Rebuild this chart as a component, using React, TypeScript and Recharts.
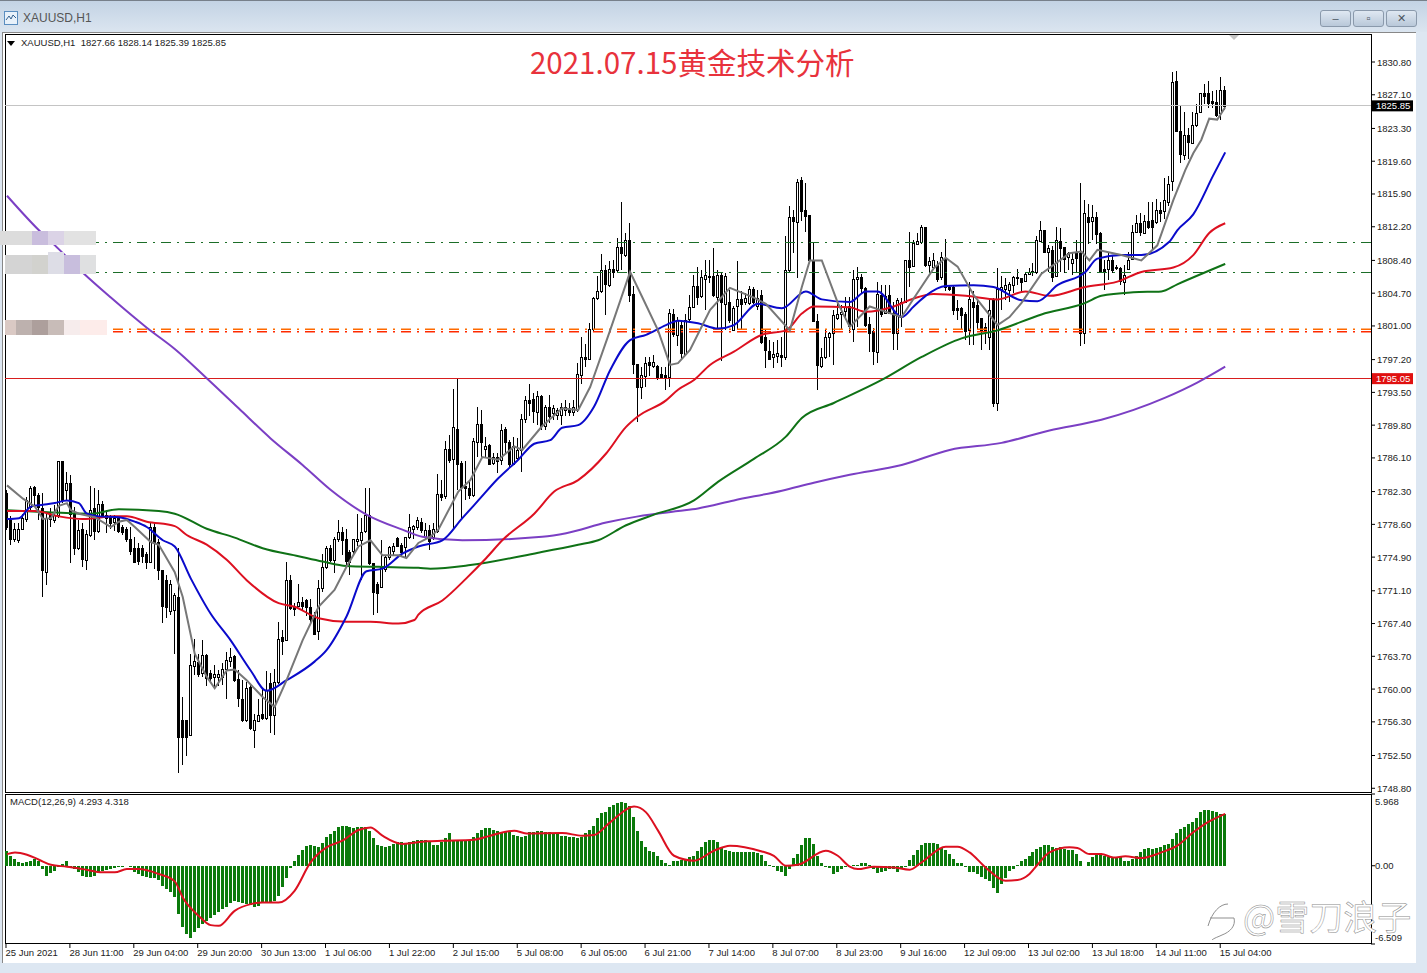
import { Bar, ComposedChart, Line, ReferenceLine, XAxis, YAxis } from "recharts";

// candles, one hour per bar
const opens = [
  1782.1,1779.1,1777.0,1776.9,1778.1,1779.1,1780.6,1782.8,1781.9,1780.4,
  1773.2,1779.6,1779.0,1779.6,1785.7,1782.5,1783.3,1779.8,1776.0,1778.1,
  1774.6,1777.4,1780.4,1777.9,1780.9,1779.6,1779.5,1778.8,1779.3,1778.3,
  1778.1,1777.0,1775.9,1775.9,1775.9,1775.3,1774.4,1778.3,1776.6,1773.4,
  1772.3,1768.9,1768.9,1770.4,1756.5,1756.5,1754.8,1762.6,1763.1,1761.8,
  1763.8,1761.8,1761.4,1761.4,1761.4,1762.3,1763.1,1763.7,1761.1,1758.9,
  1756.5,1760.2,1755.4,1756.4,1757.2,1756.7,1760.7,1757.1,1760.8,1765.9,
  1765.5,1772.3,1769.3,1769.3,1769.8,1770.1,1769.3,1768.4,1766.5,1771.4,
  1773.8,1775.9,1774.5,1776.9,1777.7,1776.9,1775.5,1775.5,1776.8,1776.8,
  1777.8,1779.6,1774.2,1771.9,1771.5,1773.6,1774.9,1775.5,1777.1,1776.3,
  1776.1,1777.2,1778.1,1778.3,1778.9,1777.2,1778.0,1777.2,1777.8,1782.0,
  1781.8,1787.1,1786.0,1789.4,1785.5,1782.9,1782.7,1781.9,1787.9,1789.9,
  1787.1,1787.6,1785.5,1786.2,1785.9,1789.4,1787.9,1785.4,1786.1,1787.0,
  1790.4,1792.6,1792.7,1791.3,1793.1,1789.7,1791.8,1791.1,1790.9,1790.9,
  1791.5,1791.7,1791.2,1791.5,1795.5,1797.5,1797.3,1800.6,1804.1,1804.9,
  1807.3,1805.6,1807.4,1807.3,1809.9,1809.0,1810.7,1804.6,1796.7,1794.1,
  1795.3,1796.9,1796.5,1796.5,1795.6,1795.5,1795.3,1802.3,1800.0,1801.1,
  1797.9,1801.7,1803.1,1805.5,1804.3,1806.4,1806.5,1806.6,1804.3,1806.8,
  1803.4,1803.7,1800.5,1803.2,1804.0,1803.6,1803.6,1805.2,1803.2,1804.5,
  1799.7,1798.2,1797.5,1797.7,1797.7,1797.5,1807.3,1813.3,1812.8,1817.5,
  1814.1,1813.5,1808.4,1801.6,1796.5,1797.5,1799.7,1800.2,1801.9,1802.4,
  1802.6,1803.2,1800.7,1806.3,1806.5,1805.3,1801.2,1800.4,1798.1,1804.5,
  1802.5,1804.5,1802.5,1800.2,1802.0,1803.7,1808.5,1807.8,1810.3,1810.5,
  1812.2,1807.9,1807.7,1807.9,1806.5,1808.7,1805.4,1805.4,1803.0,1803.0,
  1802.4,1800.5,1803.7,1803.4,1801.9,1800.9,1799.8,1803.9,1792.3,1805.2,
  1805.1,1805.0,1805.6,1806.5,1806.4,1806.1,1806.9,1807.1,1807.1,1810.6,
  1811.8,1809.4,1809.6,1806.6,1810.6,1809.9,1808.8,1808.1,1809.3,1809.2,
  1800.2,1813.3,1812.8,1813.3,1811.5,1807.4,1807.4,1808.4,1807.6,1807.5,
  1806.0,1807.4,1808.5,1811.6,1812.6,1811.6,1812.9,1813.0,1812.7,1814.1,
  1814.0,1815.0,1817.3,1828.7,1823.0,1820.3,1822.6,1821.7,1823.7,1825.1,
  1827.3,1827.3,1826.4,1826.3,1825.0,1827.66,
];
const highs = [
  1782.5,1779.5,1778.7,1778.7,1779.8,1781.7,1782.9,1782.9,1782.1,1782.1,
  1779.8,1780.4,1780.8,1785.7,1785.8,1784.5,1784.2,1780.6,1779.1,1778.7,
  1778.0,1782.9,1782.7,1782.5,1781.2,1780.2,1779.6,1779.6,1779.5,1778.5,
  1778.3,1778.3,1777.2,1776.5,1776.3,1775.5,1778.7,1778.7,1777.0,1773.4,
  1772.9,1772.3,1770.8,1775.9,1759.1,1756.5,1764.0,1765.7,1764.0,1765.5,
  1764.0,1762.1,1762.7,1762.1,1762.9,1764.2,1764.6,1763.8,1762.1,1761.0,
  1760.8,1760.6,1757.2,1758.9,1760.1,1762.0,1761.8,1762.3,1767.6,1766.7,
  1774.4,1772.9,1769.7,1771.9,1770.4,1770.2,1770.2,1768.7,1772.3,1775.3,
  1776.1,1776.3,1777.2,1779.1,1778.3,1778.1,1775.7,1777.0,1779.8,1779.3,
  1782.7,1782.7,1774.2,1772.1,1776.8,1775.1,1776.1,1776.5,1777.2,1776.5,
  1777.2,1779.8,1778.5,1779.4,1779.3,1778.7,1778.5,1778.7,1784.3,1783.6,
  1788.0,1788.7,1793.9,1795.1,1785.8,1785.7,1783.6,1788.3,1791.9,1791.5,
  1788.5,1787.7,1786.6,1786.6,1789.9,1789.6,1788.1,1788.5,1788.3,1791.1,
  1793.1,1794.4,1793.4,1793.6,1793.2,1792.1,1793.2,1792.1,1791.7,1792.3,
  1792.6,1792.3,1792.6,1796.8,1799.7,1799.0,1801.3,1804.3,1806.6,1809.1,
  1807.9,1808.3,1808.5,1810.9,1815.0,1811.5,1812.6,1805.5,1796.7,1796.4,
  1797.5,1797.5,1797.7,1796.6,1796.4,1796.4,1802.9,1802.9,1802.0,1801.7,
  1802.3,1804.5,1806.7,1807.7,1807.3,1808.5,1808.5,1809.8,1807.3,1807.1,
  1807.0,1805.1,1803.2,1808.3,1804.9,1804.7,1805.5,1805.4,1805.1,1805.1,
  1800.6,1799.4,1799.2,1799.4,1799.8,1811.1,1814.5,1814.1,1817.6,1817.8,
  1817.1,1813.5,1810.5,1802.4,1798.5,1800.7,1800.3,1802.8,1803.6,1803.4,
  1804.3,1804.3,1807.3,1807.7,1806.9,1805.4,1802.0,1800.8,1806.0,1805.6,
  1805.6,1805.6,1803.7,1804.1,1804.1,1808.4,1811.6,1810.7,1811.5,1812.4,
  1812.2,1808.8,1809.2,1808.3,1809.4,1810.8,1805.6,1805.6,1803.9,1803.1,
  1802.6,1806.0,1804.9,1803.9,1801.9,1801.3,1803.9,1804.1,1807.5,1806.6,
  1806.4,1806.0,1806.6,1807.4,1806.4,1807.1,1807.5,1808.1,1811.1,1812.8,
  1811.8,1810.1,1810.0,1812.2,1812.1,1809.9,1809.4,1809.2,1810.7,1817.1,
  1815.2,1814.8,1814.7,1813.9,1811.6,1808.4,1809.2,1809.0,1807.9,1807.7,
  1807.9,1809.4,1812.4,1813.5,1813.7,1813.5,1815.0,1815.0,1815.3,1815.0,
  1817.7,1817.9,1829.7,1829.8,1825.8,1825.2,1823.3,1825.2,1826.1,1827.3,
  1828.3,1828.6,1827.5,1827.6,1829.1,1828.14,
];
const lows = [
  1778.0,1776.3,1776.6,1776.5,1778.0,1778.9,1780.2,1780.6,1779.1,1770.4,
  1771.7,1778.3,1778.7,1779.3,1781.0,1781.3,1774.2,1775.1,1775.7,1773.8,
  1773.4,1777.2,1776.8,1777.6,1779.3,1777.6,1778.1,1777.8,1777.6,1777.4,
  1776.6,1775.1,1774.2,1774.0,1774.2,1773.6,1774.4,1773.6,1772.3,1767.5,
  1768.0,1768.4,1764.0,1750.5,1751.4,1752.4,1754.8,1761.6,1761.4,1761.4,
  1760.3,1760.8,1760.1,1760.3,1760.5,1758.9,1762.5,1760.8,1758.0,1756.3,
  1756.3,1755.4,1753.3,1756.3,1756.5,1756.5,1755.0,1754.8,1760.6,1763.8,
  1765.5,1768.9,1768.2,1769.3,1768.9,1768.2,1767.2,1766.1,1765.5,1771.0,
  1773.6,1774.4,1773.1,1776.6,1775.1,1774.0,1772.9,1775.1,1776.1,1772.3,
  1777.6,1774.0,1768.4,1768.6,1771.5,1773.2,1774.6,1775.1,1776.1,1774.9,
  1774.8,1777.0,1777.0,1778.0,1777.6,1776.8,1775.7,1776.8,1777.6,1781.2,
  1781.5,1785.5,1778.0,1782.5,1779.1,1781.3,1781.5,1781.7,1786.2,1786.2,
  1786.2,1785.3,1785.3,1784.4,1785.3,1786.6,1785.1,1785.3,1785.9,1784.5,
  1790.0,1790.8,1790.0,1789.8,1789.2,1789.2,1790.0,1790.4,1790.4,1789.8,
  1790.8,1790.8,1790.8,1791.3,1794.5,1796.4,1797.2,1800.4,1803.9,1804.7,
  1802.2,1805.4,1806.4,1807.1,1807.3,1808.8,1803.7,1795.6,1790.2,1792.8,
  1794.1,1795.3,1796.2,1794.9,1795.1,1793.8,1794.1,1799.8,1798.7,1797.3,
  1797.7,1801.3,1803.0,1803.4,1804.1,1802.8,1805.8,1804.3,1800.5,1797.0,
  1800.5,1801.3,1800.4,1800.5,1800.5,1803.4,1803.4,1803.5,1802.8,1799.0,
  1796.2,1797.2,1796.2,1796.8,1796.4,1797.2,1807.1,1809.2,1806.4,1812.8,
  1811.6,1808.4,1801.5,1793.8,1796.2,1797.3,1797.5,1796.6,1801.7,1800.6,
  1801.7,1800.2,1799.2,1800.9,1804.7,1800.9,1798.1,1796.6,1796.8,1802.0,
  1802.4,1802.4,1798.3,1798.3,1800.9,1803.7,1805.4,1807.7,1810.1,1810.3,
  1807.7,1807.1,1807.3,1806.0,1806.2,1804.9,1804.9,1802.2,1801.7,1800.5,
  1799.4,1798.8,1798.8,1800.5,1798.3,1799.0,1798.3,1791.9,1791.4,1802.8,
  1803.9,1803.7,1804.7,1805.6,1804.9,1806.0,1806.7,1806.6,1806.9,1810.5,
  1809.2,1807.1,1806.0,1806.6,1807.1,1807.0,1807.3,1806.8,1807.1,1798.7,
  1799.0,1810.3,1810.7,1810.3,1807.1,1805.1,1806.2,1807.0,1807.3,1805.6,
  1804.5,1807.3,1808.4,1811.5,1811.1,1811.5,1811.9,1809.6,1812.5,1812.7,
  1813.1,1814.5,1816.2,1822.9,1819.4,1819.7,1819.9,1821.6,1823.5,1825.0,
  1826.1,1825.6,1825.6,1824.6,1824.2,1825.39,
];
const closes = [
  1778.3,1777.0,1778.1,1778.1,1779.3,1781.3,1782.7,1781.9,1780.6,1773.4,
  1779.3,1779.1,1779.6,1785.7,1781.3,1783.3,1779.8,1776.0,1778.0,1774.7,
  1777.5,1780.2,1777.8,1780.9,1779.6,1779.3,1778.7,1779.3,1777.8,1777.7,
  1777.0,1775.7,1774.3,1774.4,1775.0,1774.4,1778.3,1776.6,1773.4,1769.3,
  1769.3,1771.9,1770.6,1754.6,1754.6,1754.6,1762.7,1763.2,1761.8,1763.8,
  1761.2,1761.2,1761.7,1761.7,1762.3,1763.3,1763.6,1761.0,1758.9,1756.5,
  1760.1,1755.6,1756.5,1757.1,1756.7,1759.9,1757.1,1760.8,1765.7,1765.4,
  1772.3,1769.1,1769.1,1769.8,1769.4,1769.3,1768.0,1766.3,1771.4,1773.8,
  1775.9,1774.5,1776.9,1777.7,1776.8,1774.4,1774.4,1776.9,1777.0,1777.7,
  1779.6,1774.2,1770.9,1770.9,1773.8,1774.9,1776.0,1776.1,1776.2,1775.5,
  1777.2,1778.3,1778.4,1779.1,1778.0,1778.0,1776.8,1778.1,1782.0,1781.7,
  1787.1,1785.9,1789.6,1785.5,1782.8,1782.7,1781.9,1788.0,1789.9,1787.9,
  1787.4,1785.4,1786.2,1785.7,1789.3,1787.9,1785.4,1787.4,1787.0,1790.5,
  1792.6,1792.3,1791.3,1793.1,1789.7,1791.8,1790.8,1791.7,1791.5,1791.8,
  1791.8,1791.3,1791.8,1795.6,1797.5,1797.3,1800.7,1804.1,1804.9,1807.3,
  1805.7,1807.4,1807.1,1809.9,1809.2,1810.7,1804.5,1796.7,1794.1,1795.5,
  1796.8,1796.6,1796.9,1795.3,1795.3,1795.2,1802.5,1800.0,1801.7,1797.9,
  1801.7,1803.1,1805.5,1804.3,1806.5,1806.8,1806.6,1804.5,1806.8,1803.7,
  1806.6,1801.7,1803.0,1804.0,1803.4,1804.1,1805.2,1803.7,1804.1,1799.2,
  1798.2,1797.3,1797.8,1798.0,1797.5,1807.3,1813.3,1812.8,1817.3,1814.0,
  1813.4,1808.4,1801.5,1796.6,1797.5,1799.8,1800.2,1802.2,1802.4,1802.6,
  1803.1,1800.9,1806.3,1806.5,1805.3,1801.1,1800.2,1798.1,1804.6,1802.4,
  1804.4,1802.5,1800.2,1803.9,1803.7,1808.4,1807.7,1810.4,1810.6,1812.2,
  1807.9,1808.3,1808.5,1806.3,1808.8,1805.4,1805.2,1802.8,1802.8,1802.2,
  1800.5,1804.0,1803.1,1801.5,1800.4,1800.4,1802.8,1792.3,1805.2,1805.4,
  1805.6,1805.7,1806.5,1806.4,1806.0,1806.9,1807.1,1807.2,1810.7,1811.8,
  1809.3,1809.8,1806.6,1810.7,1809.8,1808.6,1809.2,1808.6,1808.6,1800.2,
  1813.8,1812.7,1813.3,1811.4,1807.1,1807.1,1808.4,1807.3,1807.5,1806.0,
  1806.8,1808.4,1811.6,1812.6,1811.6,1812.9,1812.2,1812.2,1814.1,1813.8,
  1815.2,1817.0,1828.5,1823.0,1820.4,1822.6,1821.8,1823.7,1825.0,1827.3,
  1827.0,1826.2,1826.2,1824.8,1827.6,1825.85,
];

// moving averages, read at the bars where the line bends
const grayBars = [0,4,7,9,11,13,15,16,18,22,26,28,30,32,36,38,42,44,47,50,52,55,57,60,64,67,70,74,78,82,85,88,91,94,98,100,103,106,108,113,116,119,123,127,129,134,139,143,146,151,156,159,163,166,168,171,176,181,187,190,196,199,201,204,208,211,216,218,224,227,232,235,238,242,248,251,254,259,266,269,271,273,279,284,288,292,295,297,299,301,303,305];
const grayValues = [1783.0,1781.5,1780.6,1779.2,1779.3,1780.7,1781.0,1780.2,1779.8,1779.4,1778.3,1778.9,1779.1,1778.3,1776.6,1776.3,1773.2,1770.4,1764.0,1761.4,1760.1,1762.1,1762.2,1761.0,1759.1,1758.0,1761.0,1765.5,1769.3,1771.2,1773.8,1776.1,1776.8,1775.1,1775.1,1774.8,1776.5,1777.2,1778.0,1782.3,1783.6,1786.2,1785.9,1787.4,1787.0,1789.7,1791.7,1791.5,1794.1,1800.5,1807.1,1804.3,1800.5,1796.6,1796.8,1798.3,1802.8,1805.3,1804.2,1803.5,1800.5,1805.4,1808.4,1808.4,1803.6,1800.9,1803.2,1802.9,1802.0,1804.1,1807.5,1808.7,1807.7,1804.5,1801.1,1802.0,1803.6,1806.9,1809.2,1809.4,1808.4,1809.6,1809.0,1808.4,1810.1,1815.2,1818.6,1820.5,1822.0,1824.4,1824.3,1825.7];
const blueBars = [0,3,6,9,12,15,18,20,23,28,32,35,39,42,46,51,56,61,65,70,77,80,85,90,94,99,103,109,114,118,123,128,132,136,139,143,147,151,156,160,165,168,173,178,182,188,194,200,204,211,215,218,224,227,230,235,242,247,254,258,263,270,273,279,284,291,293,297,302,305];
const blueValues = [1779.2,1779.3,1780.6,1780.8,1781.0,1781.3,1781.0,1779.8,1779.5,1779.4,1778.9,1778.3,1776.8,1776.1,1772.5,1768.5,1765.5,1762.1,1759.8,1761.0,1763.1,1764.4,1768.2,1773.3,1773.6,1775.3,1776.1,1776.8,1779.3,1781.3,1783.8,1785.9,1787.7,1788.1,1789.5,1789.8,1791.9,1796.0,1799.4,1800.0,1801.1,1801.6,1801.3,1800.7,1801.1,1803.5,1803.0,1804.9,1804.0,1803.7,1804.9,1804.9,1802.0,1803.2,1804.4,1805.5,1805.6,1805.4,1803.9,1803.8,1805.6,1807.1,1808.6,1809.0,1809.0,1810.5,1811.8,1813.6,1818.0,1820.6];
const redBars = [0,7,13,19,27,30,35,42,45,50,55,60,68,72,78,85,91,98,102,103,109,115,120,124,132,137,143,150,155,158,165,168,172,176,182,189,195,199,202,211,215,222,227,232,240,248,255,261,270,278,284,292,297,301,305];
const redValues = [1780.1,1780.1,1779.5,1779.2,1779.5,1779.5,1778.9,1778.4,1777.4,1776.3,1774.6,1772.3,1769.7,1769.3,1768.0,1767.6,1767.6,1767.4,1767.8,1768.4,1770.0,1772.5,1774.8,1776.8,1779.8,1782.3,1783.6,1786.6,1789.6,1790.8,1792.6,1793.8,1794.9,1796.6,1798.1,1800.0,1800.5,1802.4,1803.2,1803.1,1802.6,1803.2,1804.1,1804.6,1804.4,1804.0,1804.9,1804.4,1805.4,1806.0,1807.1,1807.6,1809.0,1811.5,1812.6];
const greenBars = [0,9,21,28,38,42,50,57,64,73,79,85,93,103,106,116,133,143,148,155,162,172,178,187,195,199,207,219,229,239,248,259,270,274,282,289,293,305];
const greenValues = [1780.2,1780.0,1779.8,1780.3,1780.1,1779.8,1778.1,1777.1,1775.9,1775.0,1774.4,1773.9,1773.8,1773.7,1773.6,1774.0,1775.4,1776.3,1776.8,1778.5,1779.7,1781.3,1783.4,1786.0,1788.5,1790.6,1792.3,1794.9,1797.5,1799.6,1800.5,1802.3,1803.6,1804.4,1804.8,1804.9,1805.7,1808.0];
const purpleBars = [0,8,12,19,26,35,42,50,58,66,74,81,90,99,104,114,134,140,150,158,168,173,182,194,202,211,224,236,249,261,274,290,298,305];
const purpleValues = [1815.7,1811.8,1810.1,1807.0,1804.2,1800.8,1798.4,1795.1,1791.7,1788.3,1785.3,1782.5,1779.7,1778.0,1777.2,1776.8,1777.2,1777.6,1778.8,1779.5,1780.1,1780.4,1781.3,1782.4,1783.3,1784.2,1785.3,1787.0,1787.8,1789.2,1790.4,1792.9,1794.6,1796.4];

// MACD histogram, one value per bar
const macdValues = [
  1.25,.83,.55,.28,.19,.28,.36,.55,.42,-.28,-.83,-.64,-.42,-.08,.14,.42,-.08,-.28,-.55,-.83,
  -.97,-.92,-.83,-.55,-.42,-.36,-.28,-.19,-.14,-.08,-.06,-.08,-.55,-.69,-.83,-.97,-1.03,-1.06,-1.19,-1.67,
  -1.94,-2.17,-2.64,-4.03,-5.08,-5.69,-5.97,-5.55,-5.14,-4.86,-4.58,-4.31,-4.08,-3.81,-3.61,-3.47,-3.06,-2.92,-3.0,-3.06,
  -3.19,-3.28,-3.39,-3.33,-3.11,-3.06,-3.06,-2.97,-2.5,-1.75,-1.06,-.22,.42,.92,1.31,1.67,1.75,1.67,1.58,1.86,
  2.36,2.64,2.86,3.19,3.33,3.33,3.19,3.14,3.19,3.19,3.19,2.86,2.28,1.75,1.67,1.58,1.67,1.81,1.94,1.94,
  1.86,2.0,2.08,2.17,2.17,2.14,2.08,1.75,1.75,1.94,2.3,2.72,2.17,2.14,2.14,2.14,2.14,2.36,2.69,2.97,
  3.11,3.11,3.0,2.92,2.78,2.86,2.78,2.58,2.5,2.36,2.5,2.78,2.83,2.92,2.86,2.78,2.78,2.72,2.64,2.5,
  2.5,2.42,2.36,2.28,2.42,2.69,2.97,3.33,3.94,4.39,4.5,4.86,5.06,5.22,5.33,5.22,4.94,4.03,2.86,2.08,
  1.53,1.25,1.11,.78,.5,.25,.08,.36,.42,.47,.55,.69,.83,1.25,1.53,1.94,2.17,2.17,1.94,1.53,
  1.31,1.25,1.11,1.17,1.17,1.17,1.17,1.11,1.06,.92,.42,.08,-.08,-.42,-.55,-.83,-.28,.64,.97,1.72,
  2.3,2.3,1.81,.83,.22,-.08,-.19,-.69,-.55,-.28,-.08,-.14,.05,.1,.22,.19,.08,-.28,-.61,-.55,
  -.42,-.28,-.28,-.5,-.28,-.08,.5,.89,1.31,1.75,1.89,1.89,1.89,1.81,1.47,1.31,.97,.55,.22,.19,
  -.14,-.55,-.55,-.72,-.9,-1.1,-1.25,-1.86,-2.3,-1.53,-1.0,-.4,-.28,.05,.36,.55,.83,1.11,1.39,1.6,
  1.72,1.75,1.58,1.47,1.58,1.39,1.33,1.33,.97,.42,-.03,.3,.7,1.0,1.03,.83,.69,.69,.69,.69,
  .36,.42,.55,.83,1.15,1.39,1.47,1.39,1.5,1.6,1.75,1.85,2.22,2.75,3.05,3.25,3.45,3.65,4.0,4.45,
  4.6,4.6,4.58,4.5,4.3,4.293,
];
const signalBars = [0,2,5,8,11,15,19,24,27,30,33,38,42,44,48,51,53,57,61,64,68,72,76,80,84,88,91,94,99,105,109,117,121,127,130,139,144,147,151,157,160,163,167,172,177,181,189,192,195,198,205,208,211,213,217,222,226,229,235,238,241,245,250,253,256,258,261,266,268,271,274,277,280,284,289,293,297,301,305];
const signalValues = [.97,1.11,.92,.5,.08,-.08,-.28,-.55,-.55,-.28,-.28,-.69,-1.3,-2.64,-4.17,-4.94,-5.0,-3.75,-3.19,-3.06,-3.06,-2.08,.28,1.53,2.08,2.97,3.19,2.5,1.81,2.03,2.08,2.17,2.5,2.92,2.69,2.72,2.5,2.56,3.61,4.92,4.44,2.92,.83,.42,1.25,1.67,1.19,.83,0,.08,1.25,.83,-.08,-.28,-.08,-.14,-.33,.28,1.58,1.58,1.11,-.14,-1.25,-1.19,-.69,.08,1.11,1.53,1.47,.97,.97,.69,.78,.64,1.11,1.67,2.78,3.69,4.318];

const priceTicks = [1830.8,1827.1,1823.3,1819.6,1815.9,1812.2,1808.4,1804.7,1801.0,1797.2,1793.5,1789.8,1786.1,1782.3,1778.6,1774.9,1771.1,1767.4,1763.7,1760.0,1756.3,1752.5,1748.8];
const bid = 1825.85;
const support = 1795.05;
const greenLevels = [1810.42, 1807.03];
const orangeLevels = [1800.62, 1800.35];
const orangeColors = ["#ff6a00", "#ff2a00"];
const macdTicks = [5.968, 0, -6.509];
const timeLabels = ["25 Jun 2021","28 Jun 11:00","29 Jun 04:00","29 Jun 20:00","30 Jun 13:00","1 Jul 06:00","1 Jul 22:00","2 Jul 15:00","5 Jul 08:00","6 Jul 05:00","6 Jul 21:00","7 Jul 14:00","8 Jul 07:00","8 Jul 23:00","9 Jul 16:00","12 Jul 09:00","13 Jul 02:00","13 Jul 18:00","14 Jul 11:00","15 Jul 04:00"];

const SLOTS = 342; // the chart leaves empty room right of the last bar
const rows: any[] = Array.from({ length: SLOTS }, (_, i) => ({
  i,
  open: opens[i],
  high: highs[i],
  low: lows[i],
  close: closes[i],
  range: i < opens.length ? [lows[i], highs[i]] : null,
  macd: macdValues[i],
}));
const addLine = (key: string, bars: number[], values: number[]) => {
  bars.forEach((b, n) => {
    rows[b][key] = values[n];
  });
};
addLine("gray", grayBars, grayValues);
addLine("blue", blueBars, blueValues);
addLine("red", redBars, redValues);
addLine("green", greenBars, greenValues);
addLine("purple", purpleBars, purpleValues);
addLine("signal", signalBars, signalValues);

const FONT = "'Liberation Sans', Arial, sans-serif";

const Candle = (props: any) => {
  const { x, y, width, height, payload } = props;
  if (payload.range == null) return null;
  const perUnit = height / (payload.high - payload.low || 1);
  const mid = Math.floor(x + width / 2) + 0.5;
  const top = y + (payload.high - Math.max(payload.open, payload.close)) * perUnit;
  const bottom = y + (payload.high - Math.min(payload.open, payload.close)) * perUnit;
  const up = payload.close >= payload.open;
  return (
    <g shapeRendering="crispEdges">
      <line x1={mid} x2={mid} y1={y} y2={y + height} stroke="#000" strokeWidth={1} />
      <rect
        x={mid - 1}
        y={Math.round(top) + 0.5}
        width={2}
        height={Math.max(Math.round(bottom - top), 1)}
        fill={up ? "#fff" : "#000"}
        stroke="#000"
        strokeWidth={1}
      />
    </g>
  );
};

const PriceTick = (props: any) => {
  const { x, y, payload } = props;
  const v = payload.value;
  if (v === bid || v === support) {
    return (
      <g>
        <rect x={x - 7} y={y - 5.5} width={41} height={11} fill={v === bid ? "#000" : "#e01010"} />
        <text x={x - 3} y={y + 3.5} fontSize={9.5} fontFamily={FONT} fill="#fff">
          {v.toFixed(2)}
        </text>
      </g>
    );
  }
  return (
    <g>
      <line x1={x - 8} x2={x - 4} y1={y} y2={y} stroke="#000" />
      <text x={x - 2} y={y + 3.5} fontSize={9.5} fontFamily={FONT} fill="#222">
        {v.toFixed(2)}
      </text>
    </g>
  );
};

const MacdTick = (props: any) => {
  const { x, y, payload } = props;
  const v = payload.value;
  const dy = v > 0 ? 7 : v < 0 ? -7 : 0;
  return (
    <g>
      <line x1={x - 8} x2={x - 4} y1={y} y2={y} stroke="#000" />
      <text x={x - 4} y={y + dy + 3.5} fontSize={9.5} fontFamily={FONT} fill="#222">
        {v === 0 ? "0.00" : v.toFixed(3)}
      </text>
    </g>
  );
};

const TimeTick = (props: any) => {
  const { x, y, payload } = props;
  return (
    <g>
      <line x1={x - 1} x2={x - 1} y1={y - 8} y2={y - 4} stroke="#000" />
      <text x={x - 1.5} y={y + 4} fontSize={9.5} fontFamily={FONT} fill="#222">
        {timeLabels[payload.value / 16]}
      </text>
    </g>
  );
};

// the smudged-out labels on the left of the original
const smudges = [
  [0, 231, 32, 14, "#dcdcdc"], [32, 231, 16, 14, "#c9bddd"], [48, 231, 16, 14, "#dbd3e6"], [64, 231, 32, 14, "#e2e2e2"],
  [5, 255, 27, 19, "#d4d4d4"], [32, 255, 16, 19, "#d2d2ce"], [48, 252, 16, 22, "#dddde6"], [64, 255, 16, 19, "#c8bedd"], [80, 255, 16, 19, "#dfe0e1"],
  [5, 320, 11, 15, "#dac9c4"], [16, 320, 16, 15, "#bdb1ae"], [32, 320, 16, 15, "#ad9f9c"], [48, 320, 16, 15, "#c8bcb8"], [64, 320, 16, 15, "#f6ecec"], [80, 320, 27, 15, "#fdecea"],
] as const;

const box = (left: number, top: number, width: number, height: number, extra: any = {}) => ({
  position: "absolute" as const, left, top, width, height, boxSizing: "border-box" as const, ...extra,
});

const winButton = (left: number, glyph: string) => (
  <div
    style={box(left, 10, 31, 17, {
      border: "1px solid #8a99ab",
      borderRadius: 3,
      background: "linear-gradient(#dfe8f2,#b9c8d9)",
      color: "#4a5560",
      fontSize: 11,
      lineHeight: "15px",
      textAlign: "center",
      fontFamily: FONT,
    })}
  >
    {glyph}
  </div>
);

export default function App() {
  return (
    <div style={box(0, 0, 1427, 973, { background: "#dde7f2", overflow: "hidden" })}>
      <div style={box(0, 0, 1427, 32, { background: "linear-gradient(#c3d3e4,#dbe5f0)", borderTop: "1px solid #77808a" })} />
      <svg style={box(4, 11, 14, 14)} viewBox="0 0 14 14">
        <rect x={0.5} y={0.5} width={13} height={13} fill="#e8f1fa" stroke="#5b8ec0" />
        <path d="M2 9 L5 5 L7 8 L9 4 L12 7" fill="none" stroke="#33608f" />
      </svg>
      <div style={box(23, 10, 120, 16, { fontFamily: FONT, fontSize: 12, lineHeight: "16px", color: "#555" })}>XAUUSD,H1</div>
      {winButton(1320, "–")}
      {winButton(1353, "▫")}
      {winButton(1386, "✕")}

      <div style={box(2, 32, 1414, 931, { background: "#fff", borderLeft: "1px solid #888", borderTop: "1px solid #888" })} />
      <div style={box(5, 34, 1367, 759, { border: "1px solid #000" })} />
      <div style={box(5, 794, 1367, 150, { border: "1px solid #000" })} />

      <div style={box(0, 0, 1427, 793)}>
        <ComposedChart width={1427} height={793} data={rows} barCategoryGap={0} margin={{ top: 35, right: 0, bottom: 1, left: 5 }}>
          <XAxis dataKey="i" type="category" hide />
          <YAxis
            orientation="right"
            width={56}
            domain={[1748.38, 1833.85]}
            ticks={[...priceTicks, bid, support]}
            interval={0}
            tick={<PriceTick />}
            tickLine={false}
            axisLine={false}
            allowDataOverflow
          />
          <ReferenceLine y={bid} stroke="#c4c4c4" shapeRendering="crispEdges" />
          <ReferenceLine y={support} stroke="#d81e1e" shapeRendering="crispEdges" />
          {greenLevels.map((v) => (
            <ReferenceLine key={v} y={v} stroke="#1c6e28" strokeDasharray="10 6 2 6" shapeRendering="crispEdges" />
          ))}
          {orangeLevels.map((v, n) => (
            <ReferenceLine key={v} y={v} stroke={orangeColors[n]} strokeWidth={1.4} strokeDasharray="10 6 2 6" />
          ))}
          <Bar dataKey="range" barSize={3} shape={<Candle />} isAnimationActive={false} />
          <Line type="monotone" dataKey="purple" stroke="#7b3fc4" strokeWidth={2} dot={false} connectNulls isAnimationActive={false} />
          <Line type="monotone" dataKey="green" stroke="#0f7216" strokeWidth={2} dot={false} connectNulls isAnimationActive={false} />
          <Line type="monotone" dataKey="red" stroke="#dd1020" strokeWidth={2} dot={false} connectNulls isAnimationActive={false} />
          <Line type="monotone" dataKey="blue" stroke="#0a0acb" strokeWidth={2} dot={false} connectNulls isAnimationActive={false} />
          <Line dataKey="gray" stroke="#777777" strokeWidth={2} dot={false} connectNulls isAnimationActive={false} />
        </ComposedChart>
      </div>

      <div style={box(0, 793, 1427, 170)}>
        <ComposedChart width={1427} height={170} data={rows} barCategoryGap={0} margin={{ top: 1, right: 0, bottom: 0, left: 5 }}>
          <XAxis
            dataKey="i"
            type="category"
            height={19}
            ticks={timeLabels.map((_, n) => n * 16)}
            interval={0}
            tick={<TimeTick />}
            tickLine={false}
            axisLine={false}
          />
          <YAxis
            orientation="right"
            width={56}
            domain={[-6.509, 5.968]}
            ticks={macdTicks}
            interval={0}
            tick={<MacdTick />}
            tickLine={false}
            axisLine={false}
          />
          <Bar dataKey="macd" fill="#0b7a0b" barSize={3} shapeRendering="crispEdges" isAnimationActive={false} />
          <Line type="monotone" dataKey="signal" stroke="#dc1020" strokeWidth={2} dot={false} connectNulls isAnimationActive={false} />
        </ComposedChart>
      </div>

      {smudges.map(([l, t, w, h, c], n) => (
        <div key={n} style={box(l, t, w, h, { background: c })} />
      ))}

      <div style={box(7, 41, 8, 5, { width: 0, height: 0, borderLeft: "4px solid transparent", borderRight: "4px solid transparent", borderTop: "5px solid #000" })} />
      <div style={box(21, 37, 400, 12, { fontFamily: FONT, fontSize: 9.5, lineHeight: "12px", color: "#222", whiteSpace: "pre" })}>
        XAUUSD,H1  1827.66 1828.14 1825.39 1825.85
      </div>
      <div style={box(1229, 35, 10, 5, { width: 0, height: 0, borderLeft: "5px solid transparent", borderRight: "5px solid transparent", borderTop: "5px solid #c4c4c4" })} />
      <div style={box(10, 796, 300, 12, { fontFamily: FONT, fontSize: 9.5, lineHeight: "12px", color: "#222" })}>
        MACD(12,26,9) 4.293 4.318
      </div>
      <div style={box(530, 40, 340, 42, { fontFamily: "'Noto Sans CJK SC', sans-serif", fontSize: 29.5, lineHeight: "42px", color: "#e8323c", whiteSpace: "nowrap" })}>
        2021.07.15黄金技术分析
      </div>
      <svg style={box(1206, 900, 34, 40)} viewBox="0 0 34 40" fill="none" stroke="#8f8f8f" strokeWidth={1}>
        <path d="M2 26 C6 12 14 4 22 4" />
        <path d="M4 18 H28 C30 26 24 32 16 35 C12 37 8 38 6 40" />
      </svg>
      <div
        style={box(1243, 893, 172, 46, {
          fontFamily: "'Noto Sans CJK SC', sans-serif",
          fontSize: 34,
          lineHeight: "46px",
          color: "#ffffff",
          WebkitTextStroke: "0.5px #8a8a8a",
          whiteSpace: "nowrap",
        })}
      >
        @雪刀浪子
      </div>
    </div>
  );
}
